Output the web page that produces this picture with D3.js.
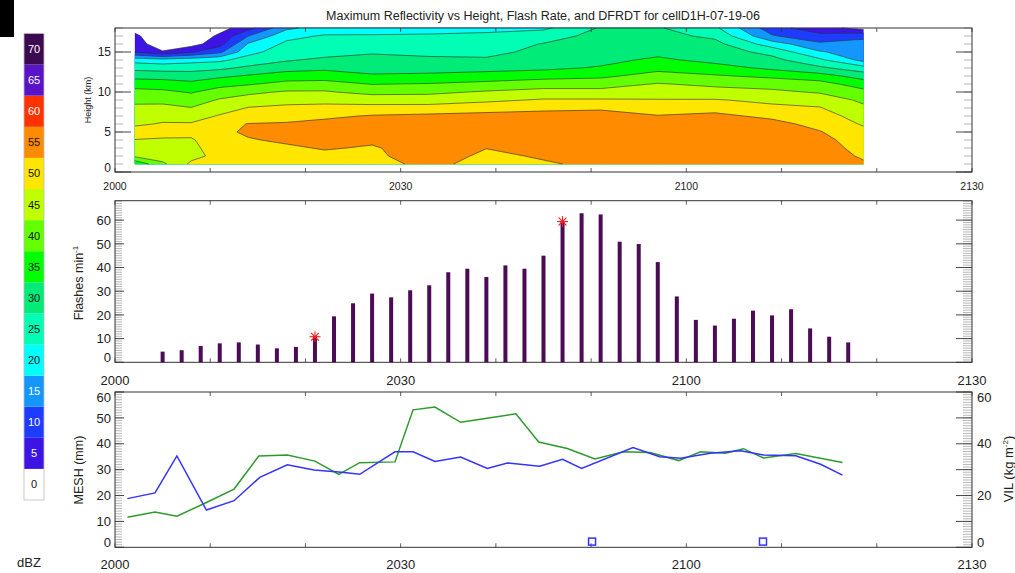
<!DOCTYPE html>
<html>
<head>
<meta charset="utf-8">
<script src="https://cdn.jsdelivr.net/npm/d3@7"></script>
<style>
body { margin: 0; background: #fff; }
svg { display: block; font-family: "Liberation Sans", Arial, Helvetica, sans-serif; }
</style>
</head>
<body>
<svg id="chart" width="1015" height="573"></svg>
<script>
// ---- data ----
const dbzLevels = [0, 5, 10, 15, 20, 25, 30, 35, 40, 45, 50, 55, 60, 65, 70];
const dbzColors = ['#ffffff', '#3c14e6', '#1e3cff', '#1496ff', '#00ffff', '#00ffb4', '#00eb78',
    '#00ff00', '#64ff00', '#c0ff00', '#ffe600', '#ff8c00', '#ff3200', '#5a14c8', '#3c0a50'];

// minutes after 2000 of each reflectivity profile
const contourTimes = [2.1, 5, 8, 11, 14, 18, 22, 27, 33, 39, 45, 51, 57, 63, 69, 74, 78.6];
const contourHeights = [1, 2, 3, 4, 5, 6, 7, 8, 9, 10, 11, 12, 13, 14, 15, 16, 17, 18];
// max reflectivity (dBZ), one profile per time, from 1 km to 18 km
const reflectivity = [
    [36, 46, 48, 49.8, 53, 49, 47.2, 45.9, 44, 41.4, 38, 33.2, 28.6, 23, 9.8, 8, 6, 3],
    [44, 47.5, 48.5, 49.5, 51.5, 50.5, 48, 46, 44, 41, 37.5, 33, 28, 22, 5.6, 1, 1, 1],
    [51, 48.5, 49, 49.6, 51, 50.5, 47.5, 45.2, 42.5, 39.6, 36.5, 32, 28.5, 23, 9.5, 3, 1, 1],
    [51, 51.5, 52, 52.5, 53.5, 53, 50.5, 47.5, 45.5, 42, 38.5, 34, 29, 24, 14, 8, 6, 3],
    [52, 52.5, 53.5, 54.5, 56, 55.2, 52, 50.3, 47, 44, 39.5, 35.5, 31, 27, 23.5, 20.5, 15, 8],
    [52.5, 53, 54, 56, 57, 55.5, 53, 51, 48.5, 45.5, 41.5, 37.5, 33, 29.5, 27.5, 26, 23.5, 19],
    [52.5, 53.5, 55.5, 56.5, 57, 56.5, 54, 51.5, 48.5, 45.5, 42, 37.5, 34, 31, 28, 26.5, 25.5, 22],
    [53, 54, 54.4, 56, 57, 57, 55.4, 51.5, 48, 43.5, 39.8, 35.5, 33.5, 31.5, 29.5, 27.5, 26, 20],
    [56.5, 57.5, 58, 58.5, 58.5, 58, 56, 52, 47.5, 44, 40.3, 35.8, 33.5, 30.8, 29, 27.5, 26, 22],
    [53, 54, 55.1, 57, 58, 58, 56.5, 53, 49, 45.5, 41.5, 36.8, 33.5, 30.5, 29, 28, 26.5, 23],
    [54.5, 55.5, 56.5, 57.5, 58, 58, 56.3, 54.2, 50.5, 46.5, 43, 38, 34, 32, 31, 30.2, 28, 24],
    [56, 57, 57.5, 58, 58, 58, 57, 54.3, 50.5, 46.5, 43, 39, 35.5, 33.5, 32.5, 32, 31.5, 30.5],
    [56.5, 57.5, 58, 58, 58, 57.5, 55.3, 52, 50.3, 47, 45.3, 42, 38.5, 36, 33.5, 32.5, 31.5, 30.5],
    [56.5, 57.5, 58, 58, 58, 57.5, 56, 53.5, 50.3, 46.8, 44, 40.5, 37, 33.5, 32.5, 31.5, 29, 26],
    [57, 57.5, 58, 58, 57.5, 56.5, 54, 51, 49, 46, 43, 39, 34, 31.5, 28.5, 22.5, 15.5, 12],
    [56.5, 57, 57, 56.5, 55.3, 53.5, 52, 50.3, 48, 44.5, 42, 37, 31, 26, 20.5, 16, 11.5, 7],
    [55.5, 54.5, 53.5, 52.5, 51.3, 49.5, 48, 46, 44, 41.5, 37.5, 33, 27, 18.5, 17.5, 16.5, 14, 3]
];

const flashTimes = [5, 7, 9, 11, 13, 15, 17, 19, 21, 23, 25, 27, 29, 31, 33, 35, 37, 39, 41,
    43, 45, 47, 49, 51, 53, 55, 57, 59, 61, 63, 65, 67, 69, 71, 73, 75, 77];
const flashRates = [4.5, 5.1, 6.9, 8.0, 8.4, 7.5, 5.9, 6.5, 10.8, 19.4, 24.9, 29.0, 27.4, 30.4,
    32.5, 38.0, 39.5, 36.0, 40.9, 39.5, 45.0, 59.4, 62.9, 62.4, 50.9, 49.9, 42.3, 27.8, 17.9,
    15.5, 18.4, 21.8, 19.8, 22.4, 14.3, 10.8, 8.4];
const jumpTimes = [21, 47];
const jumpRates = [10.8, 59.4];

const vilTimes = [1.3, 4.2, 6.5, 9.6, 12.5, 15.2, 18.1, 20.9, 23.8, 25.7, 29.4, 31.3, 33.6, 36.3,
    39.1, 41.2, 44.6, 47.0, 49.0, 54.4, 57.2, 59.4, 62.5, 65.7, 68.1, 71.5, 74.1, 76.4];
const vilValues = [18.8, 21.0, 35.3, 14.4, 18.0, 27.0, 31.9, 29.9, 29.0, 28.2, 36.9, 36.9, 33.2,
    34.9, 30.5, 32.6, 31.3, 34.0, 30.5, 38.5, 35.0, 34.4, 36.3, 37.3, 35.7, 35.4, 32.1, 27.9];
const meshTimes = [1.3, 4.2, 6.5, 9.6, 12.5, 15.1, 18.1, 21.0, 23.5, 25.7, 29.4, 31.3, 33.6, 36.3,
    38.9, 42.1, 44.5, 47.5, 50.4, 53.4, 56.2, 59.2, 61.5, 64.1, 66.0, 68.1, 71.5, 76.4];
const meshValues = [11.6, 13.6, 12.0, 17.3, 22.5, 35.3, 35.7, 33.3, 28.2, 32.7, 33.0, 53.1, 54.2,
    48.3, 49.8, 51.6, 40.7, 38.2, 34.1, 36.9, 36.6, 33.5, 36.9, 36.3, 38.1, 34.5, 36.2, 32.8];
const dfrdtTimes = [50.1, 68.05];
const dfrdtValues = [2.2, 2.2];

const timeTicks = [0, 30, 60, 90];
const timeTickLabels = ['2000', '2030', '2100', '2130'];

// ---- layout ----
const svg = d3.select('#chart');
const axisColor = '#333';

const x = d3.scaleLinear().domain([0, 90]).range([115, 972]);
const yTop = d3.scaleLinear().domain([0, 18]).range([172, 28]);
const yMid = d3.scaleLinear().domain([0, 68.2]).range([362.3, 200.7]);
const yBot = d3.scaleLinear().domain([0, 60]).range([547.3, 392]);

svg.append('rect').attr('x', 0).attr('y', 0).attr('width', 14).attr('height', 37).attr('fill', '#000');

svg.append('text')
    .attr('x', 543).attr('y', 20)
    .attr('text-anchor', 'middle')
    .attr('font-size', 12.5).attr('fill', '#222')
    .text('Maximum Reflectivity vs Height, Flash Rate, and DFRDT for cellD1H-07-19-06');

// ---- colour bar ----
const cb = d3.scaleBand().domain(dbzLevels.slice().reverse()).range([33.5, 500]);
const cbG = svg.append('g');
cbG.selectAll('rect').data(dbzLevels).enter().append('rect')
    .attr('x', 24).attr('width', 20)
    .attr('y', d => cb(d)).attr('height', cb.bandwidth())
    .attr('fill', (d, i) => dbzColors[i]);
cbG.append('rect').attr('x', 24).attr('y', 33.5).attr('width', 20).attr('height', 466.5)
    .attr('fill', 'none').attr('stroke', '#bbb').attr('stroke-width', 0.8);
const lightText = [70, 65, 60, 15, 10, 5];
cbG.selectAll('text').data(dbzLevels).enter().append('text')
    .attr('x', 34).attr('y', d => cb(d) + cb.bandwidth() / 2 + 4)
    .attr('text-anchor', 'middle').attr('font-size', 11)
    .attr('fill', d => lightText.includes(d) ? '#fff' : '#111')
    .text(d => d);
svg.append('text').attr('x', 29).attr('y', 567).attr('text-anchor', 'middle')
    .attr('font-size', 13).attr('fill', '#222').text('dBZ');

// ---- helpers ----
function frame(y, ticks) {
    const g = svg.append('g');
    const [y0, y1] = y.range();
    // x ticks every 10 min on bottom and top
    d3.range(0, 91, 10).forEach(t => {
        g.append('line').attr('x1', x(t)).attr('x2', x(t)).attr('y1', y0).attr('y2', y0 - 4)
            .attr('stroke', axisColor).attr('stroke-width', 0.8);
        g.append('line').attr('x1', x(t)).attr('x2', x(t)).attr('y1', y1).attr('y2', y1 + 4)
            .attr('stroke', axisColor).attr('stroke-width', 0.8);
    });
    ticks.minor.forEach(v => {
        g.append('line').attr('x1', x(0)).attr('x2', x(0) + ticks.minorLeft).attr('y1', y(v)).attr('y2', y(v))
            .attr('stroke', '#999').attr('stroke-width', 0.7);
        g.append('line').attr('x1', x(90)).attr('x2', x(90) - ticks.minorRight).attr('y1', y(v)).attr('y2', y(v))
            .attr('stroke', '#999').attr('stroke-width', 0.7);
    });
    ticks.major.forEach(v => {
        g.append('line').attr('x1', x(0)).attr('x2', x(0) + ticks.majorLeft).attr('y1', y(v)).attr('y2', y(v))
            .attr('stroke', axisColor).attr('stroke-width', 0.9);
        g.append('line').attr('x1', x(90)).attr('x2', x(90) - ticks.majorRight).attr('y1', y(v)).attr('y2', y(v))
            .attr('stroke', axisColor).attr('stroke-width', 0.9);
    });
    g.append('rect').attr('x', x(0)).attr('y', y1).attr('width', x(90) - x(0)).attr('height', y0 - y1)
        .attr('fill', 'none').attr('stroke', axisColor).attr('stroke-width', 1);
    return g;
}

function yLabels(g, y, values, xPos, anchor, size) {
    const [y0, y1] = y.range();
    values.forEach(v => {
        let yy = y(v);
        if (Math.abs(yy - y0) < 1) yy -= 4.5;
        if (Math.abs(yy - y1) < 1) yy += 5;
        g.append('text').attr('x', xPos).attr('y', yy + size * 0.36)
            .attr('text-anchor', anchor).attr('font-size', size).attr('fill', '#222').text(v);
    });
}

function xLabels(yy, size) {
    timeTicks.forEach((t, i) => {
        svg.append('text').attr('x', x(t)).attr('y', yy).attr('text-anchor', 'middle')
            .attr('font-size', size).attr('fill', '#222').text(timeTickLabels[i]);
    });
}

// ---- top panel: contour of max reflectivity ----
const n = contourTimes.length, m = contourHeights.length;
const grid = [];
for (let j = 0; j < m; j++) for (let i = 0; i < n; i++) grid.push(reflectivity[i][j]);
const tOfIdx = d3.scaleLinear().domain(d3.range(n)).range(contourTimes);
const hOfIdx = d3.scaleLinear().domain(d3.range(m)).range(contourHeights);
const clampI = v => Math.max(0, Math.min(n - 1, v - 0.5));
const clampJ = v => Math.max(0, Math.min(m - 1, v - 0.5));
const toPx = p => [x(tOfIdx(clampI(p[0]))), yTop(hOfIdx(clampJ(p[1])))];

const contours = d3.contours().size([n, m]).thresholds(dbzLevels.slice(1))(grid);
const cg = svg.append('g');
contours.forEach((c, k) => {
    const d = c.coordinates.map(poly => poly.map(ring => 'M' + ring.map(toPx).join('L') + 'Z').join('')).join('');
    cg.append('path').attr('d', d).attr('fill', dbzColors[k + 1]).attr('fill-rule', 'evenodd')
        .attr('stroke', dbzColors[k + 1]).attr('stroke-width', 0.3);
});
// isolines, leaving out the edges of the data area
const onEdge = (a, b) => {
    const ai = clampI(a[0]), bi = clampI(b[0]), aj = clampJ(a[1]), bj = clampJ(b[1]);
    return (ai === 0 && bi === 0) || (ai === n - 1 && bi === n - 1) ||
        (aj === 0 && bj === 0) || (aj === m - 1 && bj === m - 1);
};
contours.forEach(c => {
    let d = '';
    c.coordinates.forEach(poly => poly.forEach(ring => {
        let pen = false;
        for (let s = 1; s < ring.length; s++) {
            if (onEdge(ring[s - 1], ring[s])) { pen = false; continue; }
            if (!pen) d += 'M' + toPx(ring[s - 1]);
            d += 'L' + toPx(ring[s]);
            pen = true;
        }
    }));
    if (d) cg.append('path').attr('d', d).attr('fill', 'none').attr('stroke', '#2a2a2a').attr('stroke-width', 0.6);
});

const gTop = frame(yTop, {minor: d3.range(0, 19), major: [0, 5, 10, 15],
    minorLeft: 8, minorRight: 8, majorLeft: 16, majorRight: 16});
yLabels(gTop, yTop, [0, 5, 10, 15], 111, 'end', 12);
xLabels(190, 10.5);
svg.append('text').attr('transform', 'translate(91,100) rotate(-90)').attr('text-anchor', 'middle')
    .attr('font-size', 9).attr('fill', '#222').text('Height (km)');

// ---- middle panel: flash rate ----
const gMid = frame(yMid, {minor: d3.range(0, 69), major: d3.range(0, 61, 10),
    minorLeft: 7, minorRight: 9, majorLeft: 9, majorRight: 16});
svg.append('g').selectAll('rect').data(flashTimes).enter().append('rect')
    .attr('x', d => x(d) - 2).attr('width', 4)
    .attr('y', (d, i) => yMid(flashRates[i]))
    .attr('height', (d, i) => yMid(0) - yMid(flashRates[i]))
    .attr('fill', '#4b0b55');
const star = svg.append('g');
jumpTimes.forEach((t, i) => {
    const cx = x(t), cy = yMid(jumpRates[i]), r = 5.5;
    [0, 45, 90, 135].forEach(a => {
        const dx = r * Math.cos(a * Math.PI / 180), dy = r * Math.sin(a * Math.PI / 180);
        star.append('line').attr('x1', cx - dx).attr('y1', cy - dy).attr('x2', cx + dx).attr('y2', cy + dy)
            .attr('stroke', '#ff1a1a').attr('stroke-width', 1.1);
    });
});
yLabels(gMid, yMid, d3.range(0, 61, 10), 111, 'end', 13);
xLabels(385, 13);
const fl = svg.append('text').attr('transform', 'translate(83,283) rotate(-90)').attr('text-anchor', 'middle')
    .attr('font-size', 12.5).attr('fill', '#222');
fl.append('tspan').text('Flashes min');
fl.append('tspan').attr('dy', -5).attr('font-size', 8).text('-1');

// ---- bottom panel: MESH and VIL ----
const gBot = frame(yBot, {minor: d3.range(0, 61), major: d3.range(0, 61, 10),
    minorLeft: 7, minorRight: 9, majorLeft: 9, majorRight: 16});
const line = d3.line();
svg.append('path').datum(meshTimes.map((t, i) => [x(t), yBot(meshValues[i])]))
    .attr('d', line).attr('fill', 'none').attr('stroke', '#2e9a2e').attr('stroke-width', 1.5);
svg.append('path').datum(vilTimes.map((t, i) => [x(t), yBot(vilValues[i])]))
    .attr('d', line).attr('fill', 'none').attr('stroke', '#3333ff').attr('stroke-width', 1.5);
svg.append('g').selectAll('rect').data(dfrdtTimes).enter().append('rect')
    .attr('x', d => x(d) - 3.5).attr('y', (d, i) => yBot(dfrdtValues[i]) - 3.5)
    .attr('width', 7).attr('height', 7)
    .attr('fill', 'none').attr('stroke', '#3333ff').attr('stroke-width', 1.5);
yLabels(gBot, yBot, d3.range(0, 61, 10), 111, 'end', 13);
yLabels(gBot, yBot, [0, 20, 40, 60], 977, 'start', 13);
xLabels(569, 13);
svg.append('text').attr('transform', 'translate(83,470) rotate(-90)').attr('text-anchor', 'middle')
    .attr('font-size', 12.5).attr('fill', '#222').text('MESH (mm)');
const vl = svg.append('text').attr('transform', 'translate(1013,469) rotate(-90)').attr('text-anchor', 'middle')
    .attr('font-size', 13).attr('fill', '#222');
vl.append('tspan').text('VIL (kg m');
vl.append('tspan').attr('dy', -5).attr('font-size', 8).text('-2');
vl.append('tspan').attr('dy', 5).text(')');
</script>
</body>
</html>
